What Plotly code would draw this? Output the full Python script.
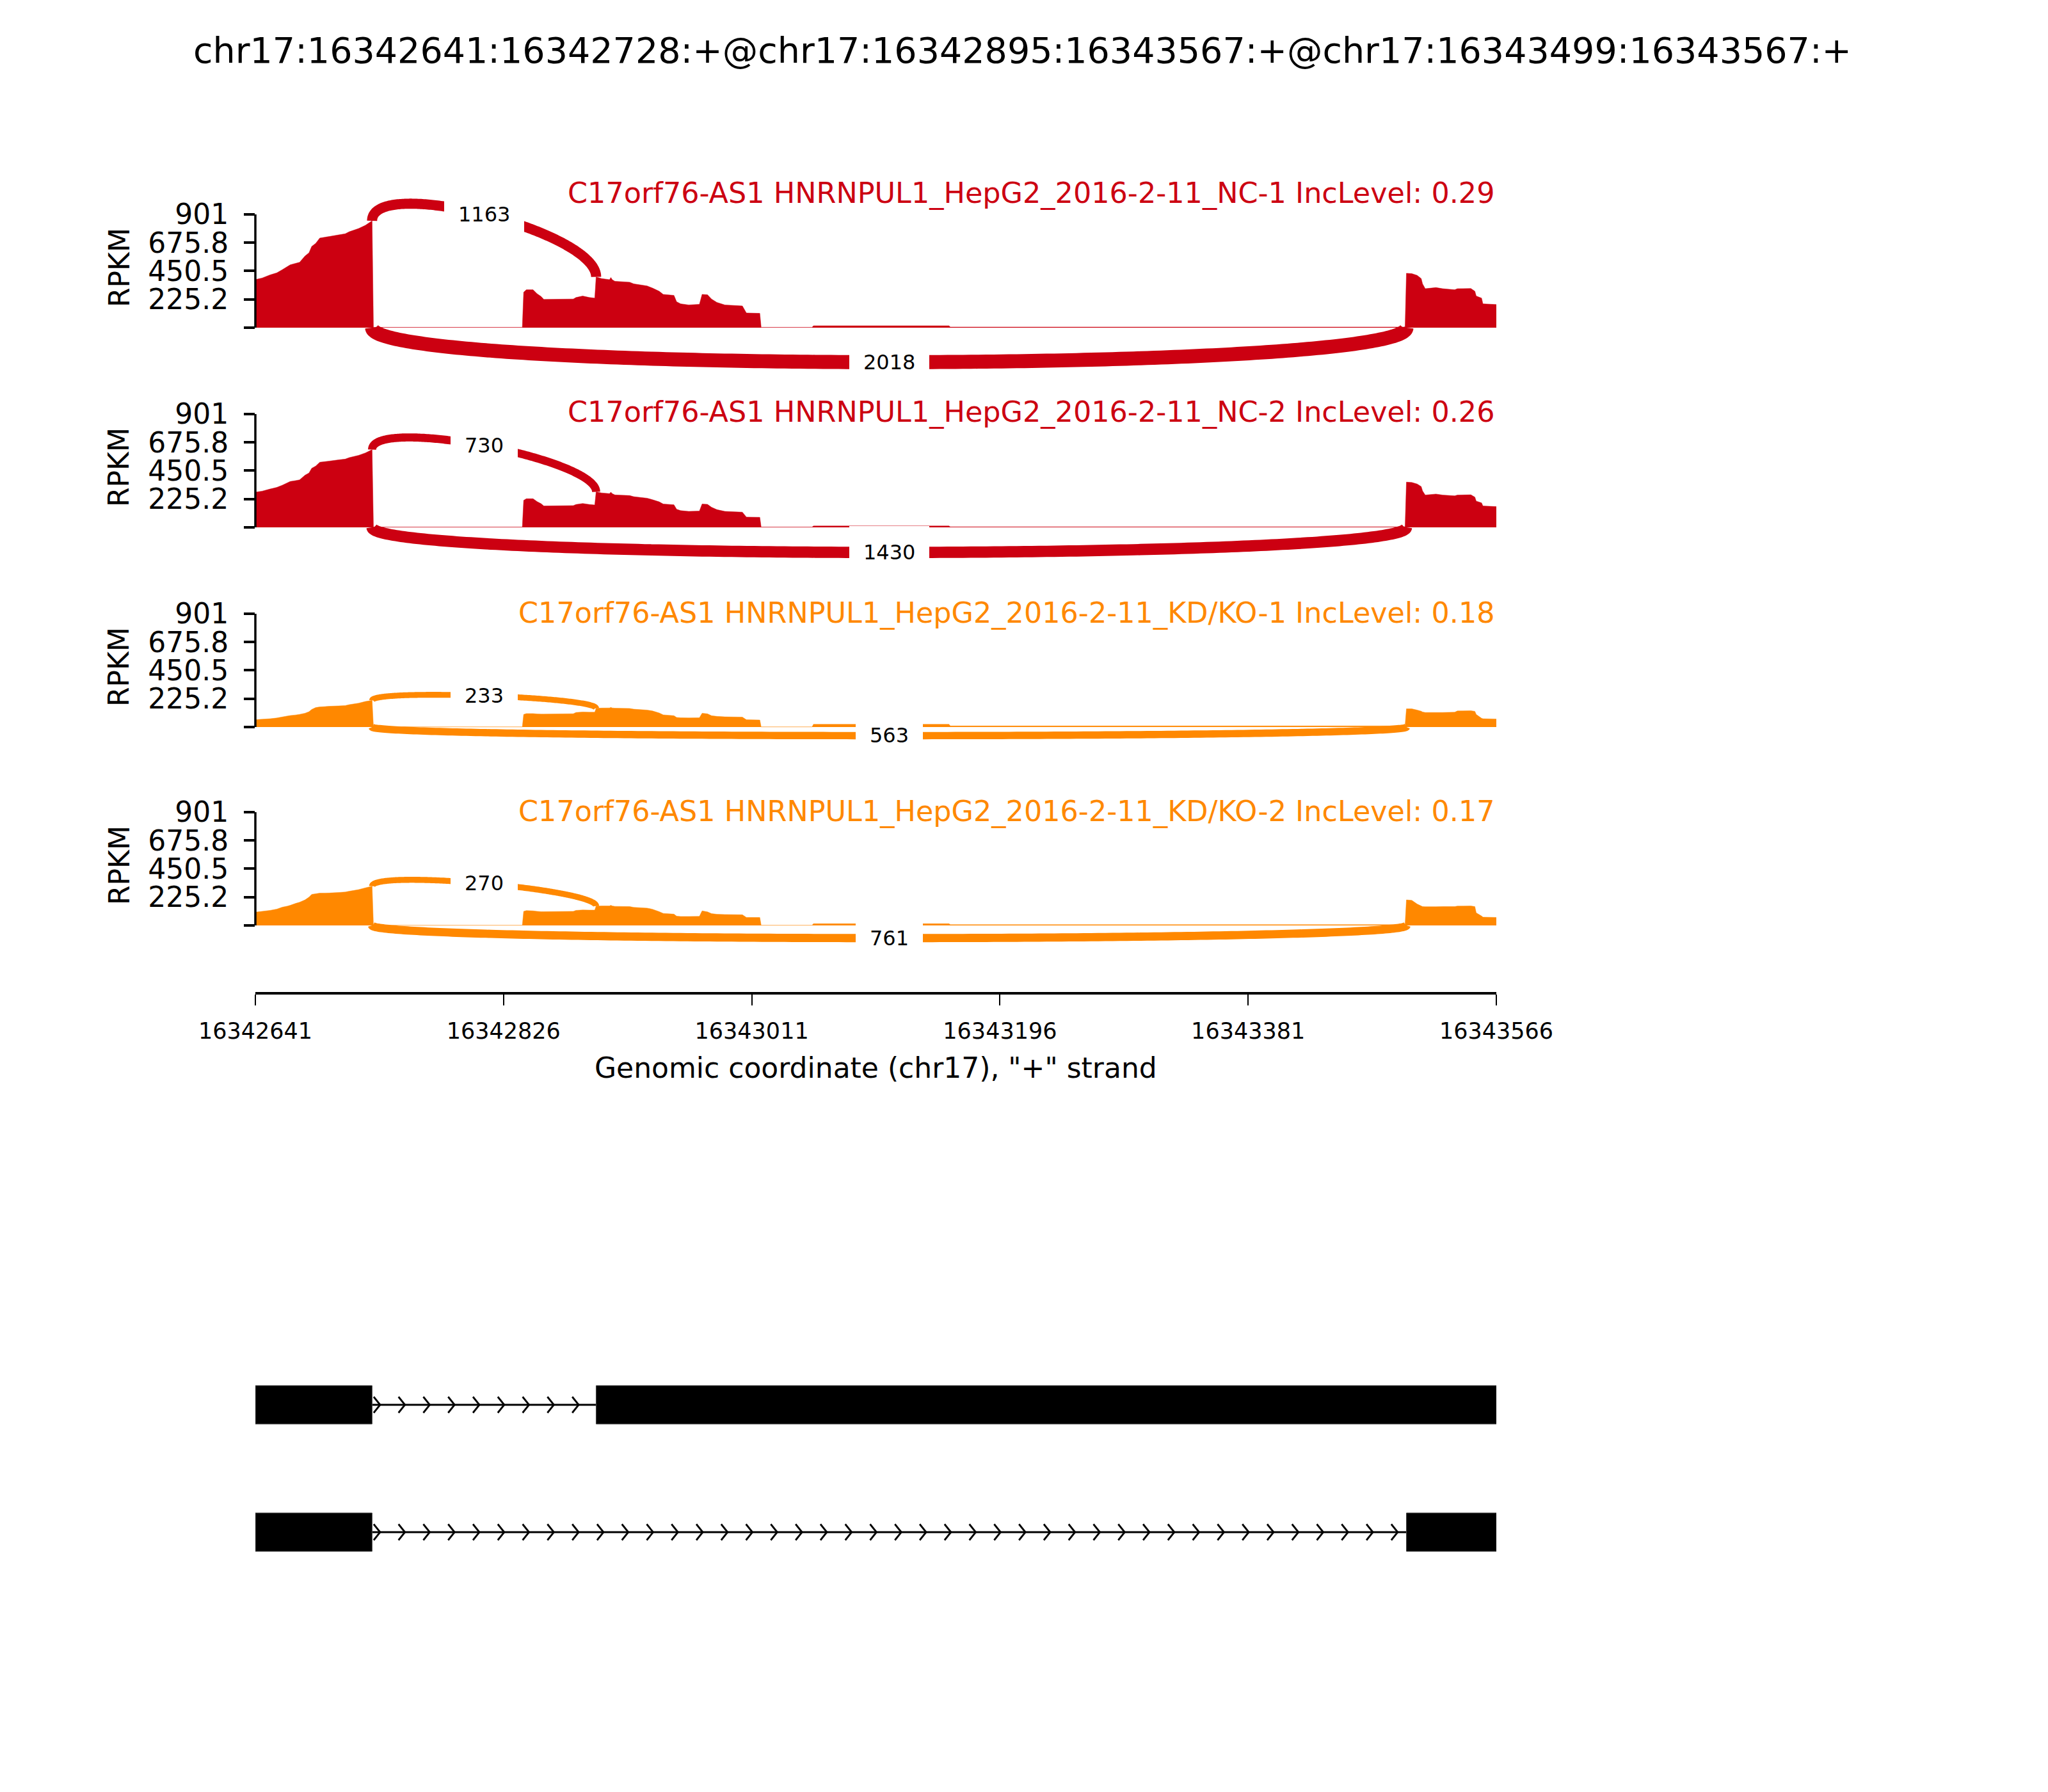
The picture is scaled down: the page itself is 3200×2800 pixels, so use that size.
import numpy as np
import plotly.graph_objects as go

# ---------------- data ----------------
CHROM = "chr17"
START, END = 16342641, 16343566
EVENT_TITLE = "chr17:16342641:16342728:+@chr17:16342895:16343567:+@chr17:16343499:16343567:+"

# coverage sample positions (offset from START, bp)
cov_offsets = [0, 5, 11, 16, 20, 24, 26, 30, 33, 37, 40, 42, 45, 48, 55, 62, 67, 70, 77, 82, 87,
               88, 199, 200, 202, 207, 210, 213, 215, 237, 239, 244, 249, 253, 254, 258, 264, 265,
               266, 268, 279, 282, 292, 296, 301, 304, 312, 314, 317, 323, 331, 333, 337, 340, 344,
               350, 363, 366, 376, 377, 415, 416, 517, 518, 856, 857, 858, 862, 866, 869, 870, 872,
               880, 885, 894, 896, 906, 909, 910, 914, 915, 925]

cov_nc1 = [383, 395, 420, 436, 461, 487, 500, 512, 520, 570, 596, 646, 671, 713, 725, 738, 747, 763, 789, 814, 850,
           3, 3, 282, 302, 302, 270, 248, 225, 228, 240, 252, 240, 235, 404, 391, 382, 399,
           382, 369, 362, 349, 332, 315, 290, 265, 257, 206, 190, 181, 186, 265, 262, 228, 201,
           181, 173, 117, 114, 3, 3, 15, 15, 5, 5, 8, 433, 430, 416, 391, 349, 310,
           319, 310, 302, 310, 312, 290, 252, 235, 190, 184]

cov_nc2 = [280, 288, 305, 318, 335, 355, 365, 372, 378, 415, 433, 470, 488, 518, 527, 537, 543, 555, 573, 592, 618,
           2, 2, 215, 228, 228, 205, 188, 170, 173, 182, 190, 182, 178, 283, 274, 268, 280,
           268, 258, 253, 244, 232, 220, 203, 186, 180, 144, 133, 127, 130, 186, 183, 160, 141,
           127, 121, 82, 80, 2, 2, 11, 11, 4, 4, 6, 360, 357, 345, 325, 290, 257,
           265, 257, 251, 257, 259, 241, 209, 195, 170, 165]

cov_kd1 = [58, 62, 66, 72, 80, 88, 91, 96, 101, 110, 122, 140, 155, 160, 165, 168, 171, 178, 190, 203, 212,
           1, 1, 100, 107, 107, 104, 103, 103, 106, 116, 120, 118, 118, 149, 151, 152, 156,
           152, 150, 148, 142, 135, 128, 112, 97, 90, 76, 74, 73, 74, 110, 105, 90, 85,
           81, 79, 58, 56, 1, 1, 22, 22, 9, 9, 12, 145, 145, 135, 126, 120, 116,
           116, 116, 118, 128, 130, 125, 100, 70, 66, 64]

cov_kd2 = [106, 112, 120, 130, 145, 154, 160, 175, 185, 203, 225, 247, 252, 257, 258, 262, 266, 272, 285, 299, 312,
           1, 1, 112, 118, 116, 112, 110, 110, 112, 120, 123, 122, 122, 154, 155, 155, 160,
           155, 152, 150, 144, 138, 129, 110, 96, 90, 74, 71, 71, 72, 116, 108, 94, 89,
           87, 85, 64, 63, 1, 1, 14, 14, 6, 6, 9, 203, 200, 170, 155, 150, 149,
           149, 150, 150, 154, 155, 150, 100, 75, 66, 64]

sample_names = ["C17orf76-AS1 HNRNPUL1_HepG2_2016-2-11_NC-1",
                "C17orf76-AS1 HNRNPUL1_HepG2_2016-2-11_NC-2",
                "C17orf76-AS1 HNRNPUL1_HepG2_2016-2-11_KD/KO-1",
                "C17orf76-AS1 HNRNPUL1_HepG2_2016-2-11_KD/KO-2"]
inc_levels = [0.29, 0.26, 0.18, 0.17]
sample_colors = ["#CC0011", "#CC0011", "#FF8800", "#FF8800"]
coverages = [cov_nc1, cov_nc2, cov_kd1, cov_kd2]

# junctions (left splice site, right splice site) and counts per sample
junctions = [(16342728, 16342895), (16342728, 16343499)]
jxn_counts = [[1163, 2018], [730, 1430], [233, 563], [270, 761]]

# isoform exon structures
isoforms = [[(16342641, 16342728), (16342895, 16343567)],
            [(16342641, 16342728), (16343499, 16343567)]]

ytick_vals = [0, 225.2, 450.5, 675.8, 901]
ytick_text = ["", "225.2", "450.5", "675.8", "901"]
xtick_vals = [16342641, 16342826, 16343011, 16343196, 16343381, 16343566]

# ---------------- layout geometry (pixels, page body offset compensated) ----------------
W, H = 3200, 2800
X0, X1 = 391, 2330
PX_PER_UNIT = 177 / 901.0
YMIN, YMAX = -529, 1053
ZERO_PX = [504, 816, 1128, 1438]
LABEL_PX = [294, 636, 950, 1260]
FONT = "DejaVu Sans"


def pyp(py):
    return 1 - py / H


def pxp(px):
    return px / W


fig = go.Figure()
annotations = []
shapes = []
layout_axes = {}

pos = [START + o for o in cov_offsets]

for i in range(4):
    yname = "y" if i == 0 else f"y{i+1}"
    axkey = "yaxis" if i == 0 else f"yaxis{i+1}"
    zero = ZERO_PX[i]
    top = zero - YMAX * PX_PER_UNIT
    bot = zero - YMIN * PX_PER_UNIT
    layout_axes[axkey] = dict(
        domain=[pyp(bot), pyp(top)], range=[YMIN, YMAX], anchor="x",
        tickmode="array", tickvals=ytick_vals, ticktext=ytick_text,
        ticks="outside", ticklen=17, tickwidth=3.5, tickcolor="black",
        tickfont=dict(size=44, color="black", family=FONT),
        showgrid=False, zeroline=False, showline=False, ticklabelstandoff=15,
        fixedrange=True, automargin=False,
    )
    color = sample_colors[i]
    cov = coverages[i]
    fig.add_trace(go.Scatter(x=pos, y=cov, mode="lines", fill="tozeroy",
                             fillcolor=color, line=dict(width=0.5, color=color, simplify=False),
                             xaxis="x", yaxis=yname, hoverinfo="skip"))
    # spine 0..901
    shapes.append(dict(type="line", xref="paper", yref=yname, x0=pxp(X0), x1=pxp(X0),
                       y0=0, y1=ytick_vals[-1], line=dict(color="black", width=3.5)))
    # junction arcs
    h = 0.43 * max(cov)
    t = np.linspace(0, 1, 200)
    for j, (lss, rss) in enumerate(junctions):
        cnt = jxn_counts[i][j]
        if j == 0:
            y1 = float(np.interp(lss, pos, cov))
            y2 = float(np.interp(rss, pos, cov))
            P = [(lss, y1), (lss, y1 + h), (rss, y2 + h), (rss, y2)]
        else:
            P = [(lss, 0), (lss, -h), (rss, -h), (rss, 0)]
        bx = ((1 - t) ** 3 * P[0][0] + 3 * (1 - t) ** 2 * t * P[1][0]
              + 3 * (1 - t) * t ** 2 * P[2][0] + t ** 3 * P[3][0])
        by = ((1 - t) ** 3 * P[0][1] + 3 * (1 - t) ** 2 * t * P[1][1]
              + 3 * (1 - t) * t ** 2 * P[2][1] + t ** 3 * P[3][1])
        lw = 7.4 + 0.0072 * cnt
        fig.add_trace(go.Scatter(x=bx, y=by, mode="lines",
                                 line=dict(color=color, width=lw, simplify=False),
                                 xaxis="x", yaxis=yname, hoverinfo="skip"))
        mx = 0.125 * P[0][0] + 0.375 * P[1][0] + 0.375 * P[2][0] + 0.125 * P[3][0]
        my = 0.125 * P[0][1] + 0.375 * P[1][1] + 0.375 * P[2][1] + 0.125 * P[3][1]
        annotations.append(dict(x=mx, y=my, xref="x", yref=yname, text=str(cnt),
                                showarrow=False, bgcolor="white", borderpad=22,
                                borderwidth=0, xanchor="center", yanchor="middle",
                                font=dict(size=32, color="black", family=FONT)))
    # sample label
    annotations.append(dict(x=pxp(X1), y=pyp(LABEL_PX[i]), xref="paper", yref="paper",
                            text=f"{sample_names[i]} IncLevel: {inc_levels[i]:.2f}",
                            showarrow=False, xanchor="right", yanchor="middle",
                            font=dict(size=44.5, color=color, family=FONT)))
    # RPKM label
    annotations.append(dict(x=pxp(178), y=pyp(zero - 94), xref="paper", yref="paper",
                            text="RPKM", textangle=-90, showarrow=False,
                            xanchor="center", yanchor="middle",
                            font=dict(size=44, color="black", family=FONT)))

# ---------------- gene models ----------------
GENE_TOP, GENE_BOT = 2080, 2480
gene_centers_px = [2187, 2386]
layout_axes["yaxis5"] = dict(domain=[pyp(GENE_BOT), pyp(GENE_TOP)], range=[0, GENE_BOT - GENE_TOP],
                             anchor="x", visible=False, fixedrange=True, automargin=False)
CHEV_STEP = 18.5
CHEV_DX = 4.8
CHEV_DY = 12.5
for k, iso in enumerate(isoforms):
    c = GENE_BOT - gene_centers_px[k]
    cx, cy = [], []
    for e in range(len(iso) - 1):
        a, b = iso[e][1], iso[e + 1][0]
        shapes.append(dict(type="line", xref="x", yref="y5", x0=a, x1=b, y0=c, y1=c,
                           line=dict(color="black", width=3)))
        tip = a + 6
        while tip < b - 2:
            cx += [tip - CHEV_DX, tip, tip - CHEV_DX, None]
            cy += [c + CHEV_DY, c, c - CHEV_DY, None]
            tip += CHEV_STEP
    fig.add_trace(go.Scatter(x=cx, y=cy, mode="lines", line=dict(color="black", width=2.8),
                             xaxis="x", yaxis="y5", hoverinfo="skip"))
    for (s, e_) in iso:
        shapes.append(dict(type="rect", xref="x", yref="y5", x0=s, x1=e_, y0=c - 30, y1=c + 30,
                           fillcolor="black", line=dict(color="#444444", width=1)))

# ---------------- axes / text ----------------
layout_axes["xaxis"] = dict(
    domain=[pxp(X0), pxp(X1)], range=[START, END], anchor="y4",
    tickmode="array", tickvals=xtick_vals, ticktext=[str(v) for v in xtick_vals],
    ticks="outside", ticklen=17, tickwidth=2.2, tickcolor="black",
    tickfont=dict(size=35, color="black", family=FONT), ticklabelstandoff=10,
    showline=True, linewidth=3.5, linecolor="black",
    showgrid=False, zeroline=False, fixedrange=True, automargin=False,
)

annotations.append(dict(x=(pxp(X0) + pxp(X1)) / 2, y=pyp(1660), xref="paper", yref="paper",
                        text=f'Genomic coordinate ({CHROM}), "+" strand', showarrow=False,
                        xanchor="center", yanchor="middle",
                        font=dict(size=44, color="black", family=FONT)))
annotations.append(dict(x=pxp(1589), y=pyp(70), xref="paper", yref="paper", text=EVENT_TITLE,
                        showarrow=False, xanchor="center", yanchor="middle",
                        font=dict(size=55.5, color="black", family=FONT)))

fig.update_layout(
    width=W, height=H, autosize=False,
    margin=dict(l=0, r=0, t=0, b=0, pad=0, autoexpand=False),
    paper_bgcolor="white", plot_bgcolor="rgba(0,0,0,0)",
    showlegend=False, annotations=annotations, shapes=shapes,
    font=dict(family=FONT, color="black"),
    **layout_axes,
)

fig.write_html("out.html")
